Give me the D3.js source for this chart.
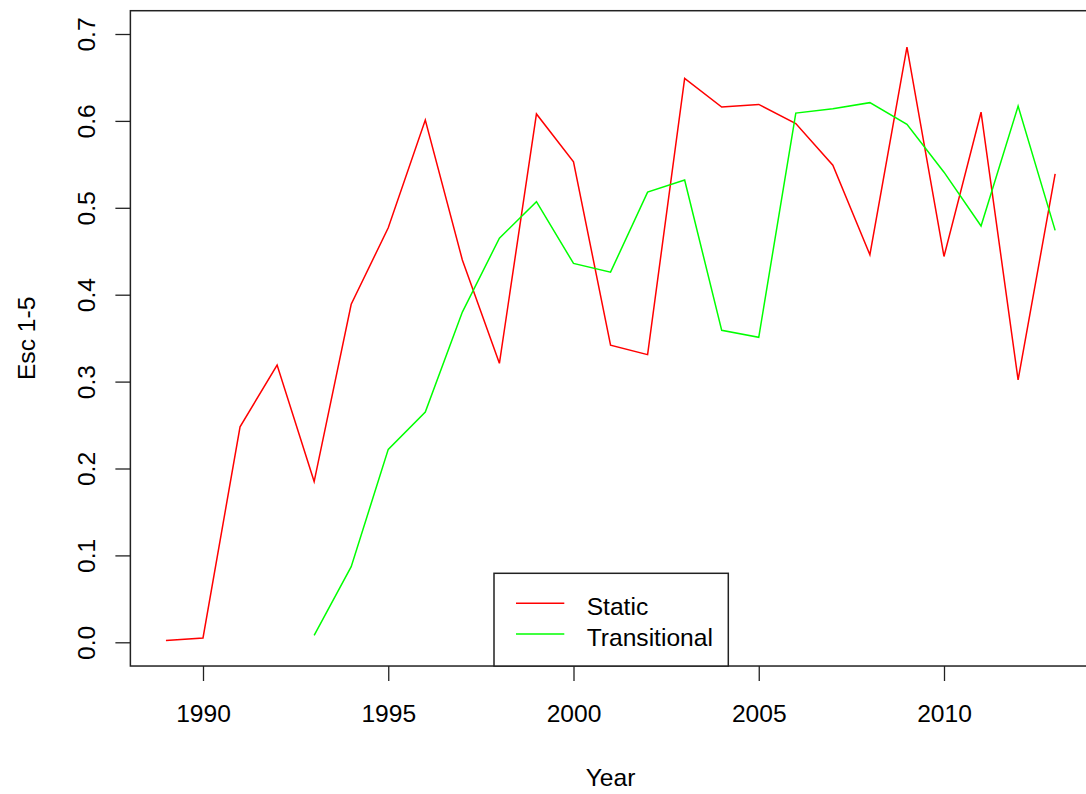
<!DOCTYPE html>
<html>
<head>
<meta charset="utf-8">
<script src="https://cdn.jsdelivr.net/npm/d3@7"></script>
<style>
  html, body { margin: 0; padding: 0; background: #fff; }
  svg { display: block; }
  text { font-family: "Liberation Sans", Arial, sans-serif; fill: #000; }
</style>
</head>
<body>
<svg id="chart" width="1086" height="794"></svg>
<script>
const years = [1989,1990,1991,1992,1993,1994,1995,1996,1997,1998,1999,2000,2001,2002,2003,2004,2005,2006,2007,2008,2009,2010,2011,2012,2013];
const staticVals = [0.002,0.005,0.248,0.319,0.185,0.389,0.477,0.601,0.440,0.321,0.608,0.553,0.342,0.331,0.649,0.616,0.619,0.597,0.549,0.446,0.685,0.444,0.610,0.302,0.539];
const transYears = [1993,1994,1995,1996,1997,1998,1999,2000,2001,2002,2003,2004,2005,2006,2007,2008,2009,2010,2011,2012,2013];
const transVals = [0.008,0.087,0.222,0.265,0.380,0.465,0.507,0.436,0.426,0.518,0.532,0.359,0.351,0.609,0.614,0.621,0.596,0.541,0.479,0.617,0.474];
const xTicks = [1990,1995,2000,2005,2010];
const yTicks = [0,0.1,0.2,0.3,0.4,0.5,0.6,0.7];
const seriesNames = ["Static","Transitional"];
const seriesColors = ["#FF0000","#00FF00"];

(function () {
const FS = 24.6;
const svg = d3.select("#chart");
const x = d3.scaleLinear().domain([1990, 2010]).range([203, 944]);
const y = d3.scaleLinear().domain([0, 0.7]).range([642.3, 34]);

const xMin = 1988.04, xMax = 2013.96, yMin = -0.0273, yMax = 0.7268;
const pLeft = x(xMin), pRight = x(xMax), pTop = y(yMax), pBottom = y(yMin);

// lines
const line = d3.line().x(d => x(d[0])).y(d => y(d[1]));
const series = [
  years.map((yr, i) => [yr, staticVals[i]]),
  transYears.map((yr, i) => [yr, transVals[i]])
];
series.forEach((s, i) => {
  svg.append("path").datum(s).attr("d", line)
    .attr("fill", "none").attr("stroke", seriesColors[i])
    .attr("stroke-width", 1.5).attr("stroke-linejoin", "miter");
});

// x axis
const xAxis = d3.axisBottom(x).tickValues(xTicks).tickFormat(d3.format("d"))
  .tickSize(15).tickSizeOuter(0);
const gx = svg.append("g").attr("transform", `translate(0,${pBottom})`).call(xAxis);
gx.select(".domain").remove();
gx.selectAll(".tick line").attr("stroke", "#222").attr("stroke-width", 1.3);
gx.selectAll(".tick text").attr("font-size", FS).attr("dy", null)
  .attr("y", 722 - pBottom).attr("font-family", "Liberation Sans, Arial, sans-serif").attr("fill", "#000");

// y axis
const yAxis = d3.axisLeft(y).tickValues(yTicks).tickFormat(d3.format(".1f"))
  .tickSize(15).tickSizeOuter(0);
const gy = svg.append("g").attr("transform", `translate(${pLeft},0)`).call(yAxis);
gy.select(".domain").remove();
gy.selectAll(".tick line").attr("stroke", "#222").attr("stroke-width", 1.3);
gy.selectAll(".tick text")
  .attr("x", null).attr("dy", null)
  .attr("transform", `translate(${95 - pLeft},0) rotate(-90)`)
  .attr("text-anchor", "middle")
  .attr("font-size", FS).attr("font-family", "Liberation Sans, Arial, sans-serif").attr("fill", "#000");

// frame
svg.append("rect").attr("x", pLeft).attr("y", pTop)
  .attr("width", pRight - pLeft).attr("height", pBottom - pTop)
  .attr("fill", "none").attr("stroke", "#222").attr("stroke-width", 1.5);

// axis titles
svg.append("text").attr("x", (pLeft + pRight) / 2).attr("y", 786)
  .attr("text-anchor", "middle").attr("font-size", FS).text("Year");
svg.append("text").attr("transform", `translate(35,${(pTop + pBottom) / 2}) rotate(-90)`)
  .attr("text-anchor", "middle").attr("font-size", FS).text("Esc 1-5");

// legend
const lg = svg.append("g");
lg.append("rect").attr("x", 494).attr("y", 573.3).attr("width", 234.3).attr("height", pBottom - 573.3)
  .attr("fill", "#fff").attr("stroke", "#222").attr("stroke-width", 1.5);
seriesNames.forEach((name, i) => {
  const ly = 603.3 + i * 30.7;
  lg.append("line").attr("x1", 516).attr("x2", 564.3).attr("y1", ly).attr("y2", ly)
    .attr("stroke", seriesColors[i]).attr("stroke-width", 1.5);
  lg.append("text").attr("x", 586.7).attr("y", ly + 12).attr("font-size", FS).text(name);
});
})();
</script>
</body>
</html>
